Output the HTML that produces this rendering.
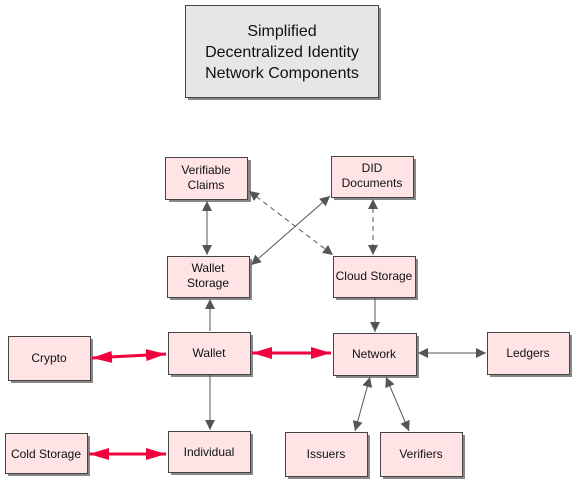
<!DOCTYPE html>
<html><head><meta charset="utf-8"><style>
html,body{margin:0;padding:0;background:#fff;}
svg{display:block;}
text{font-family:"Liberation Sans",Arial,sans-serif;font-size:12px;fill:#111;text-anchor:middle;}
text.t{font-size:16px;}
</style></head><body>
<svg width="578" height="486" viewBox="0 0 578 486" xmlns="http://www.w3.org/2000/svg">
<defs>
<marker id="g" viewBox="0 0 10 10" refX="10" refY="5" markerWidth="10" markerHeight="10" markerUnits="userSpaceOnUse" orient="auto-start-reverse"><path d="M0,0L10,5L0,10z" fill="#555"/></marker>
<marker id="r" viewBox="0 0 20 12" refX="20" refY="6" markerWidth="20" markerHeight="12" markerUnits="userSpaceOnUse" orient="auto-start-reverse"><path d="M0,0L20,6L0,12z" fill="#f0003c"/></marker>
</defs>
<g fill="#888">
<rect x="188" y="8" width="193" height="92"/>
<rect x="169" y="160" width="82" height="42"/>
<rect x="334" y="159" width="82" height="41"/>
<rect x="170" y="259" width="82" height="41"/>
<rect x="336" y="259" width="82" height="41"/>
<rect x="171" y="335" width="82" height="42"/>
<rect x="336" y="336" width="83" height="42"/>
<rect x="11" y="339" width="82" height="44"/>
<rect x="490" y="335" width="82" height="42"/>
<rect x="8" y="436" width="82" height="40"/>
<rect x="171" y="434" width="82" height="41"/>
<rect x="288" y="435" width="82" height="44"/>
<rect x="383" y="435" width="82" height="44"/>
</g>
<g stroke="#444" stroke-width="1">
<rect x="185.5" y="5.5" width="193" height="92" fill="#e6e6e6"/>
<g fill="#fee4e4">
<rect x="165.5" y="157.5" width="82" height="42"/>
<rect x="331.5" y="156.5" width="82" height="41"/>
<rect x="167.5" y="256.5" width="82" height="41"/>
<rect x="333.5" y="256.5" width="82" height="41"/>
<rect x="168.5" y="332.5" width="82" height="42"/>
<rect x="333.5" y="333.5" width="83" height="42"/>
<rect x="8.5" y="336.5" width="82" height="44"/>
<rect x="487.5" y="332.5" width="82" height="42"/>
<rect x="5.5" y="433.5" width="82" height="40"/>
<rect x="168.5" y="431.5" width="82" height="41"/>
<rect x="285.5" y="432.5" width="82" height="44"/>
<rect x="380.5" y="432.5" width="82" height="44"/>
</g>
</g>
<text class="t" x="282" y="36">Simplified</text>
<text class="t" x="282" y="57">Decentralized Identity</text>
<text class="t" x="282" y="78">Network Components</text>
<text x="206" y="174">Verifiable</text>
<text x="206" y="189">Claims</text>
<text x="372" y="172">DID</text>
<text x="372" y="187">Documents</text>
<text x="208" y="272">Wallet</text>
<text x="208" y="287">Storage</text>
<text x="374" y="280">Cloud Storage</text>
<text x="209" y="357">Wallet</text>
<text x="374" y="358">Network</text>
<text x="49" y="362">Crypto</text>
<text x="528" y="357">Ledgers</text>
<text x="46" y="458">Cold Storage</text>
<text x="209" y="456">Individual</text>
<text x="326" y="458">Issuers</text>
<text x="421" y="458">Verifiers</text>
<g stroke="#555" stroke-width="1" fill="none">
<line x1="207" y1="201" x2="207" y2="255" marker-start="url(#g)" marker-end="url(#g)"/>
<line x1="330" y1="196" x2="251" y2="265" marker-start="url(#g)" marker-end="url(#g)"/>
<line x1="249" y1="191" x2="333" y2="255" stroke-dasharray="5,4" marker-start="url(#g)" marker-end="url(#g)"/>
<line x1="373" y1="199" x2="373" y2="255" stroke-dasharray="5,4" marker-start="url(#g)" marker-end="url(#g)"/>
<line x1="210" y1="331" x2="210" y2="299" marker-end="url(#g)"/>
<line x1="375" y1="298" x2="375" y2="332" marker-end="url(#g)"/>
<line x1="210" y1="375" x2="210" y2="430" marker-end="url(#g)"/>
<line x1="418" y1="353" x2="486" y2="353" marker-start="url(#g)" marker-end="url(#g)"/>
<line x1="370" y1="377" x2="355" y2="431" marker-start="url(#g)" marker-end="url(#g)"/>
<line x1="386" y1="377" x2="409" y2="431" marker-start="url(#g)" marker-end="url(#g)"/>
</g>
<g stroke="#f0003c" stroke-width="3" fill="none">
<line x1="92" y1="358" x2="166" y2="354" marker-start="url(#r)" marker-end="url(#r)"/>
<line x1="252" y1="353" x2="331" y2="353" marker-start="url(#r)" marker-end="url(#r)"/>
<line x1="89" y1="454" x2="166" y2="454" marker-start="url(#r)" marker-end="url(#r)"/>
</g>
</svg>
</body></html>
